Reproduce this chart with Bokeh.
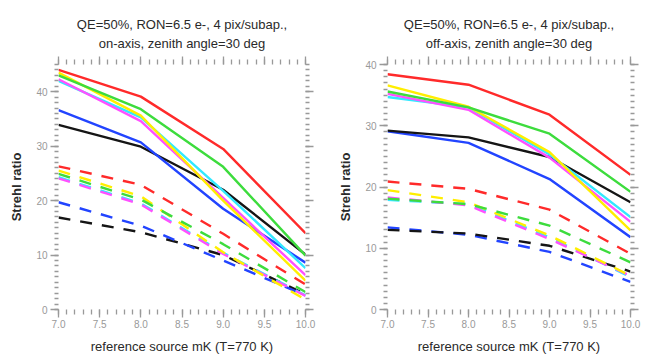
from bokeh.plotting import figure
from bokeh.layouts import row
from bokeh.models import Range1d, LinearAxis, SingleIntervalTicker, PrintfTickFormatter, Title
from bokeh.embed import file_html
from bokeh.resources import INLINE

# reference source magnitude mK
mag = [7.0, 8.0, 9.0, 10.0]

# ---- on-axis (left panel) ----
on_solid_red = [44.0, 39.1, 29.5, 14.0]
on_solid_green = [43.0, 36.8, 26.2, 9.9]
on_solid_yellow = [43.5, 35.6, 20.0, 5.3]
on_solid_cyan = [42.0, 35.3, 21.8, 7.6]
on_solid_magenta = [42.3, 34.6, 20.5, 6.3]
on_solid_blue = [36.6, 30.7, 18.5, 8.6]
on_solid_black = [33.9, 29.9, 22.0, 10.1]

on_dash_red = [26.3, 22.9, 13.9, 4.6]
on_dash_yellow = [25.5, 20.8, 10.5, 1.8]
on_dash_green = [24.9, 20.2, 12.0, 3.2]
on_dash_cyan = [24.3, 19.5, 10.4, 2.6]
on_dash_magenta = [24.1, 19.3, 10.2, 2.5]
on_dash_blue = [19.7, 15.4, 9.0, 2.6]
on_dash_black = [16.9, 14.2, 10.0, 2.8]

# ---- off-axis (right panel) ----
off_solid_red = [38.4, 36.7, 31.8, 22.0]
off_solid_yellow = [36.6, 33.1, 25.7, 12.9]
off_solid_green = [35.6, 33.0, 28.7, 19.2]
off_solid_magenta = [35.2, 32.6, 24.8, 14.3]
off_solid_cyan = [34.7, 33.0, 25.3, 15.1]
off_solid_black = [29.2, 28.1, 24.9, 17.5]
off_solid_blue = [29.1, 27.2, 21.3, 11.8]

off_dash_red = [20.9, 19.7, 16.3, 9.1]
off_dash_yellow = [19.5, 17.5, 12.1, 5.5]
off_dash_green = [18.1, 17.2, 13.7, 7.7]
off_dash_magenta = [18.3, 17.0, 11.5, 5.5]
off_dash_cyan = [17.9, 17.2, 11.8, 5.3]
off_dash_black = [13.0, 12.4, 10.4, 6.2]
off_dash_blue = [13.4, 12.2, 9.4, 4.5]

x_label = "reference source mK (T=770 K)"
y_label = "Strehl ratio"
title_line1 = "QE=50%, RON=6.5 e-, 4 pix/subap.,"
title_left_line2 = "on-axis, zenith angle=30 deg"
title_right_line2 = "off-axis, zenith angle=30 deg"

COL = {
    "red": "#ff2a2a", "green": "#3ddc3d", "yellow": "#ffee00", "cyan": "#33e8ff",
    "magenta": "#ff50ff", "blue": "#2244ff", "black": "#151515",
}
FONT = "Liberation Sans"
TICK = "#999999"


def style_axis(ax, labels, tick_out, minor_out):
    ax.axis_line_color = TICK
    ax.axis_line_alpha = 0.0
    ax.major_tick_line_color = TICK
    ax.minor_tick_line_color = TICK
    ax.major_tick_line_width = 1.3
    ax.minor_tick_line_width = 1.3
    ax.major_tick_in = 0
    ax.minor_tick_in = 0
    ax.major_tick_out = tick_out
    ax.minor_tick_out = minor_out
    ax.major_label_text_font = FONT
    if labels:
        ax.major_label_text_color = TICK
        ax.major_label_text_font_size = "10px"
    else:
        ax.major_label_text_color = None
        ax.major_label_text_font_size = "1px"
        ax.major_label_standoff = 0


def make_panel(ymax, line2, series, width, borders):
    bl, br, bt, bb = borders
    p = figure(width=width, height=357, output_backend="svg", toolbar_location=None,
               x_range=Range1d(7.0, 10.0), y_range=Range1d(0, ymax),
               x_axis_type=None, y_axis_type=None, title=None,
               min_border_left=bl, min_border_right=br, min_border_top=bt, min_border_bottom=bb)
    p.outline_line_color = None
    p.grid.visible = False

    xb = LinearAxis(ticker=SingleIntervalTicker(interval=0.5, num_minor_ticks=5),
                    formatter=PrintfTickFormatter(format="%.1f"))
    style_axis(xb, True, 8, 5)
    xb.major_label_standoff = 2
    xb.axis_label = x_label
    xb.axis_label_text_font = FONT
    xb.axis_label_text_font_size = "13px"
    xb.axis_label_text_font_style = "normal"
    xb.axis_label_text_color = "#2a2a2a"
    xb.axis_label_standoff = 8
    p.add_layout(xb, "below")

    xa = LinearAxis(ticker=SingleIntervalTicker(interval=0.5, num_minor_ticks=5))
    style_axis(xa, False, 8, 5)
    p.add_layout(xa, "above")

    yl = LinearAxis(ticker=SingleIntervalTicker(interval=10, num_minor_ticks=10))
    style_axis(yl, True, 8, 4)
    yl.major_label_standoff = 3
    yl.axis_label = y_label
    yl.axis_label_text_font = FONT
    yl.axis_label_text_font_size = "13px"
    yl.axis_label_text_font_style = "bold"
    yl.axis_label_text_color = "#2a2a2a"
    yl.axis_label_standoff = 9
    p.add_layout(yl, "left")

    yr = LinearAxis(ticker=SingleIntervalTicker(interval=10, num_minor_ticks=10))
    style_axis(yr, False, 8, 4)
    p.add_layout(yr, "right")

    p.add_layout(Title(text=line2, align="center", text_font=FONT, text_font_size="13px",
                       text_font_style="normal", text_color="#2a2a2a", standoff=12), "above")
    p.add_layout(Title(text=title_line1, align="center", text_font=FONT, text_font_size="13px",
                       text_font_style="normal", text_color="#2a2a2a", standoff=-8), "above")

    for ys, color, dashed in series:
        p.line(mag, ys, line_color=COL[color], line_width=2.4,
               line_dash="12 10" if dashed else "solid")
    return p


left_series = [
    (on_dash_black, "black", True), (on_dash_blue, "blue", True),
    (on_dash_cyan, "cyan", True), (on_dash_magenta, "magenta", True),
    (on_dash_yellow, "yellow", True), (on_dash_green, "green", True),
    (on_dash_red, "red", True),
    (on_solid_black, "black", False), (on_solid_blue, "blue", False),
    (on_solid_cyan, "cyan", False), (on_solid_magenta, "magenta", False),
    (on_solid_yellow, "yellow", False), (on_solid_green, "green", False),
    (on_solid_red, "red", False),
]
right_series = [
    (off_dash_blue, "blue", True), (off_dash_black, "black", True),
    (off_dash_cyan, "cyan", True), (off_dash_magenta, "magenta", True),
    (off_dash_yellow, "yellow", True), (off_dash_green, "green", True),
    (off_dash_red, "red", True),
    (off_solid_blue, "blue", False), (off_solid_black, "black", False),
    (off_solid_cyan, "cyan", False), (off_solid_magenta, "magenta", False),
    (off_solid_yellow, "yellow", False), (off_solid_green, "green", False),
    (off_solid_red, "red", False),
]

p1 = make_panel(45, title_left_line2, left_series, 335, (58, 30, 62, 48))
p2 = make_panel(40, title_right_line2, right_series, 313, (48, 18, 64, 48))

layout = row(p1, p2)
open("out.html", "w").write(file_html(layout, INLINE))
